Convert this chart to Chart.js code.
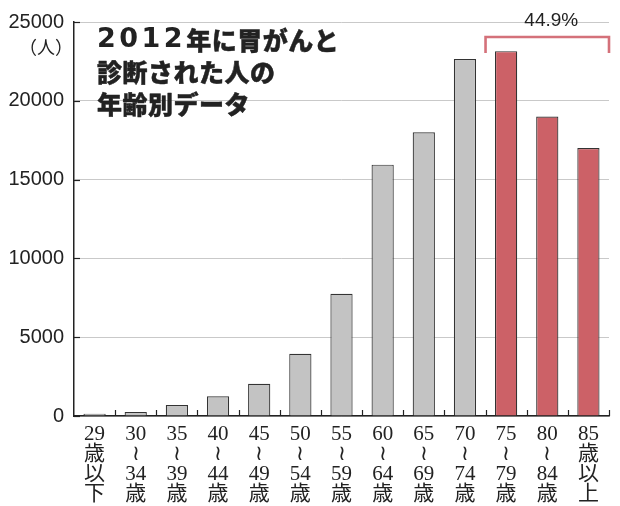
<!DOCTYPE html>
<html>
<head>
<meta charset="utf-8">
<script src="https://cdn.jsdelivr.net/npm/chart.js@4"></script>
<style>
  body { margin: 0; background: #fff; }
  canvas { display: block; }
</style>
</head>
<body>
<canvas id="ageChart" width="620" height="506"></canvas>
<script>
// 年齢階級（縦書き風に1文字ずつ改行）
const ageLabels = [
    ['29', '歳', '以', '下'],
    ['30', '≀', '34', '歳'],
    ['35', '≀', '39', '歳'],
    ['40', '≀', '44', '歳'],
    ['45', '≀', '49', '歳'],
    ['50', '≀', '54', '歳'],
    ['55', '≀', '59', '歳'],
    ['60', '≀', '64', '歳'],
    ['65', '≀', '69', '歳'],
    ['70', '≀', '74', '歳'],
    ['75', '≀', '79', '歳'],
    ['80', '≀', '84', '歳'],
    ['85', '歳', '以', '上']
];

// 2012年 胃がん診断数（人）
const patients = [150, 250, 700, 1250, 2050, 3950, 7750, 15950, 18000, 22650, 23150, 19000, 17000];

// 75歳以上を強調
const highlightFrom = 10;
const shareLabel = '44.9%';

const titleYear = '2012';
const titleLines = ['年に胃がんと', '診断された人の', '年齢別データ'];
const unitLabel = '（人）';

const yMax = 25000;
const yStep = 5000;

const greyFill = '#c3c3c3';
const redFill = '#cc6167';
const bracketColor = '#d4717a';

const barColors = patients.map((v, i) => i >= highlightFrom ? redFill : greyFill);

// タイトル・単位・括弧・目盛りの描画
const overlayPlugin = {
    id: 'overlay',
    afterDraw(chart) {
        const ctx = chart.ctx;
        const x = chart.scales.x;
        const y = chart.scales.y;
        const area = chart.chartArea;
        const cat = (x.right - x.left) / ageLabels.length;

        ctx.save();

        // 軸の内向き目盛り
        ctx.strokeStyle = '#222';
        ctx.lineWidth = 1.2;
        y.ticks.forEach((t) => {
            const py = Math.round(y.getPixelForValue(t.value)) + 0.5;
            ctx.beginPath();
            ctx.moveTo(area.left, py);
            ctx.lineTo(area.left + 6, py);
            ctx.stroke();
        });
        for (let i = 1; i <= ageLabels.length; i++) {
            const px = Math.round(x.left + i * cat) + 0.5;
            ctx.beginPath();
            ctx.moveTo(px, area.bottom);
            ctx.lineTo(px, area.bottom - 6);
            ctx.stroke();
        }

        // 単位
        ctx.fillStyle = '#222';
        ctx.font = '18px "Noto Sans CJK JP"';
        ctx.textAlign = 'right';
        ctx.textBaseline = 'middle';
        ctx.fillText(unitLabel, 73, 47);

        // タイトル（年の数字は幅広に、かなは少し太らせる）
        ctx.textAlign = 'left';
        ctx.strokeStyle = '#222';
        ctx.lineWidth = 0.45;
        ctx.lineJoin = 'round';
        ctx.font = 'bold 27px "DejaVu Sans"';
        ctx.letterSpacing = '3.5px';
        ctx.fillText(titleYear, 97, 40);
        const yearW = ctx.measureText(titleYear).width;
        ctx.font = '900 25px "Noto Sans CJK JP"';
        ctx.letterSpacing = '0.5px';
        titleLines.forEach((line, i) => {
            const tx = i === 0 ? 97 + yearW : 97;
            const ty = 40 + i * 32;
            ctx.fillText(line, tx, ty);
            ctx.strokeText(line, tx, ty);
        });
        ctx.letterSpacing = '0px';

        // 75歳以上の括弧
        const bl = x.left + highlightFrom * cat;
        const br = x.left + ageLabels.length * cat;
        const bt = 37;
        ctx.strokeStyle = bracketColor;
        ctx.lineWidth = 2.6;
        ctx.lineJoin = 'miter';
        ctx.beginPath();
        ctx.moveTo(bl, 53);
        ctx.lineTo(bl, bt);
        ctx.lineTo(br, bt);
        ctx.lineTo(br, 53);
        ctx.stroke();

        ctx.fillStyle = '#222';
        ctx.font = '19px "Liberation Sans"';
        ctx.textAlign = 'center';
        ctx.fillText(shareLabel, (bl + br) / 2 + 4, 21);

        ctx.restore();
    }
};

new Chart(document.getElementById('ageChart'), {
    type: 'bar',
    data: {
        labels: ageLabels,
        datasets: [{
            data: patients,
            backgroundColor: barColors,
            borderColor: '#333',
            borderWidth: 1.2,
            barPercentage: 0.54,
            categoryPercentage: 1
        }]
    },
    options: {
        responsive: false,
        animation: false,
        layout: { padding: { top: 20, right: 11, left: 0, bottom: 0 } },
        plugins: {
            legend: { display: false },
            tooltip: { enabled: false }
        },
        scales: {
            x: {
                grid: { display: false },
                border: { color: '#222', width: 1.5 },
                ticks: {
                    color: '#222',
                    font: { family: '"Liberation Serif", "Noto Sans CJK JP", serif', size: 21, lineHeight: '20px' },
                    padding: 0,
                    maxRotation: 0,
                    autoSkip: false
                },
                afterFit(scale) { scale.height = 90; }
            },
            y: {
                min: 0,
                max: yMax,
                grid: { color: '#c9c9c9', lineWidth: 1, drawTicks: false },
                border: { color: '#222', width: 1.5 },
                ticks: {
                    stepSize: yStep,
                    color: '#222',
                    padding: 10,
                    font: { family: '"Liberation Sans", Arial, sans-serif', size: 20 },
                    callback: (v) => String(v)
                },
                afterFit(scale) { scale.width = 74; }
            }
        }
    },
    plugins: [overlayPlugin]
});
</script>
</body>
</html>
